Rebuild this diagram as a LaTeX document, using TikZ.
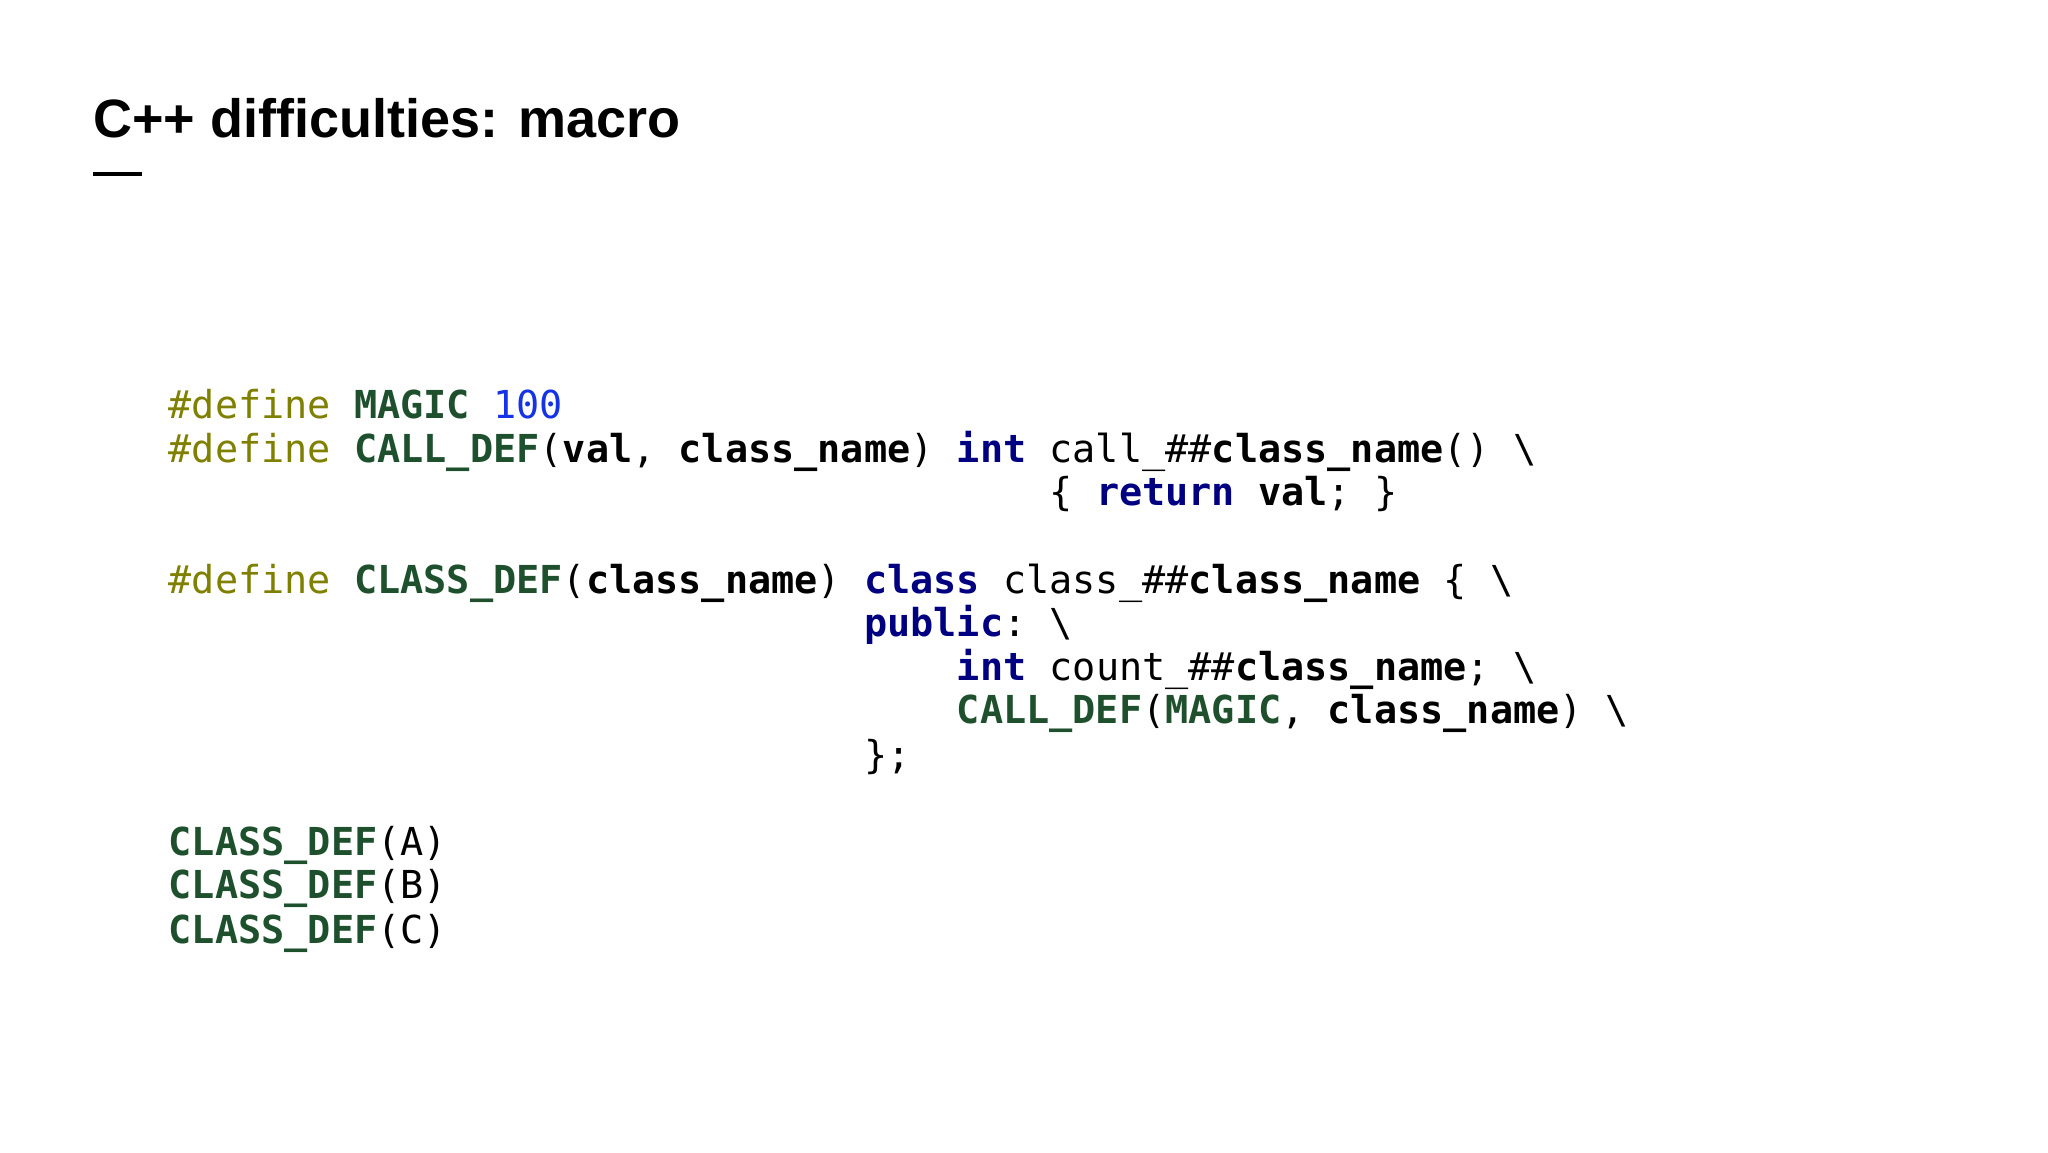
\documentclass[tikz,border=0pt]{standalone}
\usepackage{fontspec}
\setmainfont{Liberation Sans}
\setmonofont{DejaVu Sans Mono}
\definecolor{pp}{RGB}{128,128,0}
\definecolor{mn}{RGB}{30,80,45}
\definecolor{kw}{RGB}{0,0,128}
\definecolor{nm}{RGB}{20,50,230}
\newcommand{\cPP}[1]{\textcolor{pp}{#1}}
\newcommand{\cMN}[1]{\textcolor{mn}{\bfseries #1}}
\newcommand{\cKW}[1]{\textcolor{kw}{\bfseries #1}}
\newcommand{\cNM}[1]{\textcolor{nm}{#1}}
\newcommand{\cB}[1]{{\bfseries #1}}
\newcommand{\bs}{\textbackslash}
\begin{document}
\begin{tikzpicture}[x=1pt,y=1pt,
  code/.style={anchor=base west,inner sep=0pt,font=\ttfamily\fontsize{19.25}{22}\selectfont}]
\useasboundingbox (0,0) rectangle (1024,-576);
\fill[white] (0,0) rectangle (1024,-576);
\node[anchor=base west,inner sep=0pt,font=\bfseries\fontsize{27}{30}\selectfont] (title) at (46.4,-68.6) {C++ difficulties: macro};
\coordinate (d1) at (46.4,-86.8); \coordinate (d2) at (71.2,-86.8);
\draw[line width=2pt] (d1) -- (d2);
\def\cx#1{84.2+#1*11.59}
\node[code] (l1) at ({\cx{0}},-209) {\cPP{\#define} \cMN{MAGIC} \cNM{100}};
\node[code] (l2) at ({\cx{0}},-231.2) {\cPP{\#define} \cMN{CALL\_DEF}(\cB{val}, \cB{class\_name}) \cKW{int} call\_\#\#\cB{class\_name}() \bs};
\node[code] (l3) at ({\cx{38}},-252.7) {\{ \cKW{return} \cB{val}; \}};
\node[code] (l5) at ({\cx{0}},-296.5) {\cPP{\#define} \cMN{CLASS\_DEF}(\cB{class\_name})};
\node[code] (l5b) at ({\cx{30}},-296.5) {\cKW{class} class\_\#\#\cB{class\_name} \{ \bs};
\node[code] (l6) at ({\cx{30}},-318) {\cKW{public}: \bs};
\node[code] (l7) at ({\cx{34}},-340.2) {\cKW{int} count\_\#\#\cB{class\_name}; \bs};
\node[code] (l8) at ({\cx{34}},-361.8) {\cMN{CALL\_DEF}(\cMN{MAGIC}, \cB{class\_name}) \bs};
\node[code] (l9) at ({\cx{30}},-384) {\};};
\node[code] (l11) at ({\cx{0}},-427.7) {\cMN{CLASS\_DEF}(A)};
\node[code] (l12) at ({\cx{0}},-449.3) {\cMN{CLASS\_DEF}(B)};
\node[code] (l13) at ({\cx{0}},-471.5) {\cMN{CLASS\_DEF}(C)};
\end{tikzpicture}
\end{document}
